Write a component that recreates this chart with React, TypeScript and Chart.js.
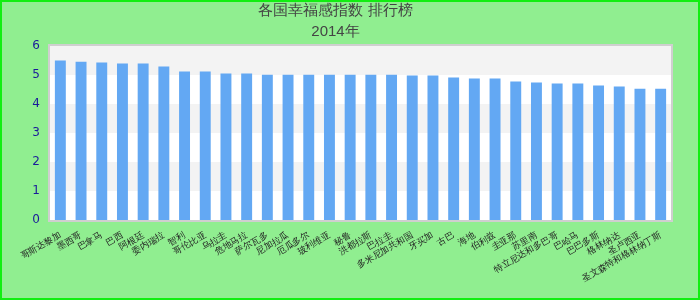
import React, { useEffect, useRef } from "react";
import { Chart, registerables } from "chart.js";

Chart.register(...registerables);

const titleLines = ["各国幸福感指数 排行榜", "2014年"];

const categories = [
  "哥斯达黎加", "墨西哥", "巴拿马", "巴西", "阿根廷",
  "委内瑞拉", "智利", "哥伦比亚", "乌拉圭", "危地马拉",
  "萨尔瓦多", "尼加拉瓜", "厄瓜多尔", "玻利维亚", "秘鲁",
  "洪都拉斯", "巴拉圭", "多米尼加共和国", "牙买加", "古巴",
  "海地", "伯利兹", "圭亚那", "苏里南", "特立尼达和多巴哥",
  "巴哈马", "巴巴多斯", "格林纳达", "圣卢西亚", "圣文森特和格林纳丁斯",
];

const values = [
  5.5, 5.46, 5.43, 5.4, 5.4,
  5.29, 5.12, 5.12, 5.05, 5.05,
  5.01, 5.01, 5.01, 5.01, 5.01,
  5.01, 5.01, 4.98, 4.98, 4.91,
  4.88, 4.88, 4.78, 4.74, 4.71,
  4.71, 4.64, 4.6, 4.53, 4.53,
];

const yTicks = [0, 1, 2, 3, 4, 5, 6];

const bandPlugin = {
  id: "bands",
  beforeDatasetsDraw(chart: any) {
    const { ctx, chartArea, scales } = chart;
    const { left, right, top, bottom } = chartArea;
    const y = scales.y;
    ctx.save();
    for (let i = 0; i < yTicks.length - 1; i++) {
      const y0 = y.getPixelForValue(yTicks[i]);
      const y1 = y.getPixelForValue(yTicks[i + 1]);
      ctx.fillStyle = i % 2 === 1 ? "#f3f3f3" : "#ffffff";
      ctx.fillRect(left, y1, right - left, y0 - y1);
    }
    ctx.strokeStyle = "#cfcfcf";
    ctx.lineWidth = 2;
    ctx.strokeRect(left - 1, top - 1, right - left + 2, bottom - top + 2);
    ctx.restore();
  },
};

export default function App() {
  const ref = useRef<HTMLCanvasElement | null>(null);

  useEffect(() => {
    document.body.style.margin = "0";
    if (!ref.current) return;
    const chart = new Chart(ref.current, {
      type: "bar",
      data: {
        labels: categories,
        datasets: [
          {
            data: values,
            backgroundColor: "#63a8f3",
            borderWidth: 0,
            barPercentage: 0.66,
            categoryPercentage: 0.8,
          },
        ],
      },
      options: {
        animation: false,
        responsive: true,
        maintainAspectRatio: false,
        layout: { padding: { left: 0, right: 29, top: 0, bottom: 0 } },
        plugins: {
          legend: { display: false },
          tooltip: { enabled: false },
          title: {
            display: true,
            text: titleLines,
            color: "#444444",
            font: { size: 15, weight: "normal", lineHeight: 1.4 },
            padding: { top: 0, bottom: 4 },
          },
        },
        scales: {
          x: {
            grid: { display: false },
            border: { display: false },
            ticks: {
              autoSkip: false,
              minRotation: 30,
              maxRotation: 30,
              color: "#222222",
              font: { size: 9 },
              padding: 2,
            },
            afterFit: (s: any) => {
              s.height = 80;
            },
          },
          y: {
            min: 0,
            max: 6,
            grid: { display: false },
            border: { display: false },
            ticks: {
              stepSize: 1,
              color: "#1a1a9a",
              font: { size: 12, family: "DejaVu Sans" },
              padding: 2,
            },
            afterFit: (s: any) => {
              s.width = 50;
            },
          },
        },
      },
      plugins: [bandPlugin],
    });
    return () => chart.destroy();
  }, []);

  return (
    <div
      style={{
        position: "fixed",
        left: 0,
        top: 0,
        width: 700,
        height: 300,
        background: "#90ee90",
      }}
    >
      <div style={{ position: "relative", width: "100%", height: "100%" }}>
        <canvas ref={ref} />
      </div>
      <div
        style={{
          position: "absolute",
          left: 0,
          top: 0,
          width: 700,
          height: 300,
          boxSizing: "border-box",
          border: "2px solid #11ee11",
          pointerEvents: "none",
        }}
      />
    </div>
  );
}
